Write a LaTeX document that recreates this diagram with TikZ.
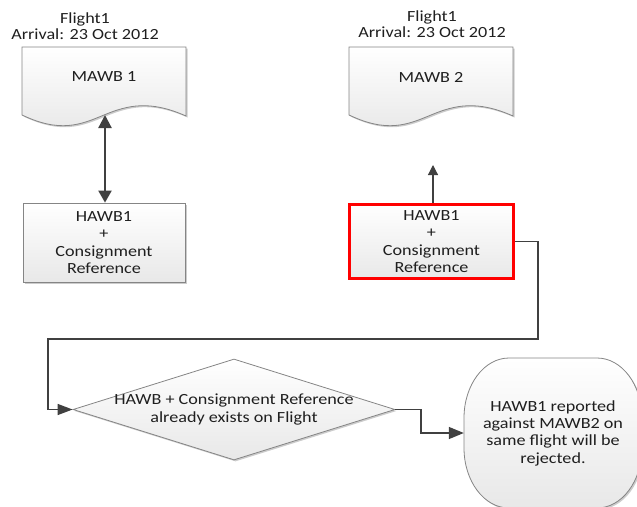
\documentclass[tikz,border=0pt]{standalone}
\usepackage{fontspec}
\setmainfont{Carlito}[FakeStretch=1.17]
\usetikzlibrary{arrows.meta,shapes.geometric,shadows}
\definecolor{ln}{HTML}{404040}
\definecolor{ol}{HTML}{858585}
\begin{document}
\begin{tikzpicture}[x=1pt,y=-1pt,
  txt/.style={font=\fontsize{15.5}{17.3}\selectfont, align=center, text=black!88, inner sep=0pt},
  hdr/.style={font=\fontsize{15.5}{16.3}\selectfont, align=center, text=black!88, inner sep=0pt},
  shapefill/.style={top color=white, bottom color=black!9, draw=ol, line width=0.8pt,
    drop shadow={shadow xshift=1.5pt, shadow yshift=-1.5pt, opacity=0.2, fill=black}},
  boxnode/.style={shapefill, rectangle, txt},
  conn/.style={draw=ln, line width=1.4pt}
]
\useasboundingbox (0,0) rectangle (637,506);

% left document MAWB 1
\path[shapefill] (22,47) -- (186,47) -- (186,116)
  .. controls (150,100) and (128,105) .. (104,115)
  .. controls (80,125) and (60,133) .. (22,115) -- cycle;
\node[txt] (m1) at (104,77) {MAWB 1};
\coordinate (m1b) at (105,115);
\node[hdr] (f1) at (85,26) {Flight1\\Arrival: 23 Oct 2012};

% right document MAWB 2
\begin{scope}[shift={(327,0)}]
\path[shapefill] (22,47) -- (186,47) -- (186,116)
  .. controls (150,100) and (128,105) .. (104,115)
  .. controls (80,125) and (60,133) .. (22,115) -- cycle;
\end{scope}
\node[txt] (m2) at (431,77) {MAWB 2};
\node[hdr] (f2) at (432,24.5) {Flight1\\Arrival: 23 Oct 2012};

% HAWB boxes
\node[boxnode, minimum width=162, minimum height=79] (h1) at (104,242.5)
  {HAWB1\\+\\Consignment\\Reference};
\node[boxnode, draw=red, line width=3pt, minimum width=164, minimum height=74] (h2) at (431.5,241.5)
  {HAWB1\\+\\Consignment\\Reference};

% decision
\node[diamond, shapefill, minimum width=322, minimum height=101, inner sep=0pt, aspect=3.19] (dia) at (234,409.5) {};
\node[txt] (dtext) at (dia.center) {HAWB + Consignment Reference\\already exists on Flight};

% terminator (rounded with elliptical corners rx=45, ry=60)
\path[shapefill] (464,418) .. controls (464,384.9) and (484.1,358) .. (509,358)
  -- (597,358) .. controls (621.9,358) and (642,384.9) .. (642,418)
  -- (642,448) .. controls (642,481.1) and (621.9,508) .. (597,508)
  -- (509,508) .. controls (484.1,508) and (464,481.1) .. (464,448) -- cycle;
\node[txt, rectangle, minimum width=178, minimum height=150] (term) at (553,433)
  {HAWB1 reported\\against MAWB2 on\\same flight will be\\rejected.};

% connectors
\draw[conn, line width=2.2pt, {Triangle[length=13pt,width=13pt]}-{Triangle[length=12pt,width=13pt]}]
  (m1b) -- (m1b |- h1.north);
\coordinate (t2) at (433,165);
\draw[conn, line width=1.2pt, -{Triangle[length=10pt,width=10pt]}] (h2.north -| t2) -- (t2);
\coordinate (c1) at (538,339);
\coordinate (c2) at (48,339);
\draw[conn, -{Triangle[length=15pt,width=11pt]}] (h2.east) -| (c1) -- (c2) |- (dia.west);
\coordinate (c3) at (421,433);
\draw[conn, -{Triangle[length=15pt,width=12pt]}] (dia.east) -| (c3) -- (term.west);
\end{tikzpicture}
\end{document}
